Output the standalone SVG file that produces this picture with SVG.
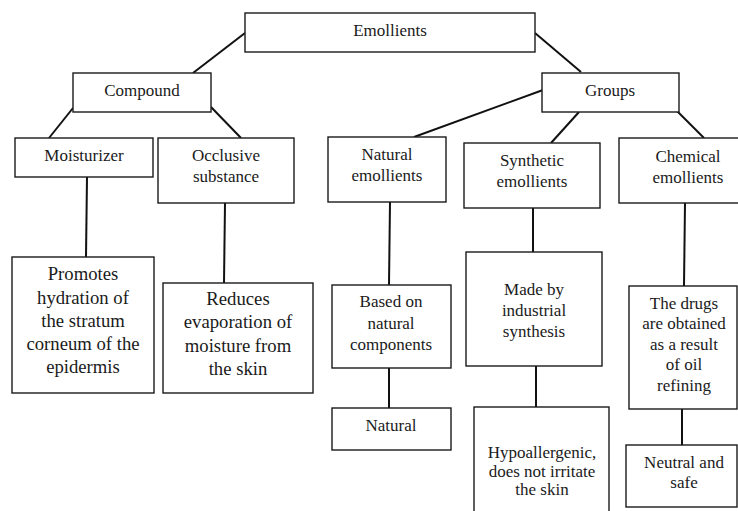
<svg xmlns="http://www.w3.org/2000/svg" width="738" height="511" viewBox="0 0 738 511">
<style>
.box{fill:#fff;stroke:#1a1a1a;stroke-width:1.4}
text{font-size:17px;fill:#1a1a1a;text-anchor:middle}
.b{font-size:18.7px}
.c line{stroke:#111;stroke-width:2}
</style>
<rect width="738" height="511" fill="#fff"/>
<g class="c" id="connectors">
<line x1="245" y1="33" x2="193" y2="73"/>
<line x1="535" y1="33" x2="581" y2="72"/>
<line x1="73" y1="108" x2="49" y2="138"/>
<line x1="211" y1="107" x2="241" y2="138"/>
<line x1="87" y1="177" x2="86" y2="257"/>
<line x1="225" y1="203" x2="224" y2="283"/>
<line x1="543" y1="90" x2="414" y2="137"/>
<line x1="579" y1="112" x2="551" y2="143"/>
<line x1="677" y1="111" x2="704" y2="138"/>
<line x1="390" y1="202" x2="389" y2="285"/>
<line x1="533" y1="208" x2="533" y2="252"/>
<line x1="685" y1="203" x2="684" y2="286"/>
<line x1="389" y1="368" x2="389" y2="408"/>
<line x1="536" y1="366" x2="536" y2="407"/>
<line x1="682" y1="409" x2="682" y2="445"/>
</g>
<g font-family="Liberation Serif, Times New Roman, DejaVu Serif, serif">
<g id="emollients"><rect class="box" x="245" y="13" width="290" height="39"/><text x="390" y="36">Emollients</text></g>
<g id="compound"><rect class="box" x="73" y="73" width="138" height="39"/><text x="142" y="96">Compound</text></g>
<g id="groups"><rect class="box" x="542" y="73" width="137" height="39"/><text x="610" y="96">Groups</text></g>
<g id="moisturizer"><rect class="box" x="15" y="138" width="138" height="39"/><text x="84" y="161">Moisturizer</text></g>
<g id="occlusive"><rect class="box" x="158" y="138" width="136" height="65"/><text x="226" y="161">Occlusive</text><text x="226" y="182">substance</text></g>
<g id="natural-emollients"><rect class="box" x="328" y="137" width="118" height="65"/><text x="387" y="160">Natural</text><text x="387" y="181">emollients</text></g>
<g id="synthetic-emollients"><rect class="box" x="464" y="143" width="136" height="65"/><text x="532" y="166">Synthetic</text><text x="532" y="187">emollients</text></g>
<g id="chemical-emollients"><rect class="box" x="619" y="138" width="125" height="65"/><text x="688" y="162">Chemical</text><text x="688" y="183">emollients</text></g>
<g id="promotes"><rect class="box" x="12" y="257" width="142" height="136"/><text class="b" x="83" y="280">Promotes</text><text class="b" x="83" y="304">hydration of</text><text class="b" x="83" y="327">the stratum</text><text class="b" x="83" y="350">corneum of the</text><text class="b" x="83" y="373">epidermis</text></g>
<g id="reduces"><rect class="box" x="163" y="283" width="150" height="110"/><text class="b" x="238" y="305">Reduces</text><text class="b" x="238" y="328">evaporation of</text><text class="b" x="238" y="352">moisture from</text><text class="b" x="238" y="375">the skin</text></g>
<g id="based-on"><rect class="box" x="332" y="285" width="119" height="83"/><text x="391" y="307">Based on</text><text x="391" y="329">natural</text><text x="391" y="350">components</text></g>
<g id="natural"><rect class="box" x="332" y="408" width="119" height="42"/><text x="391" y="431">Natural</text></g>
<g id="made-by"><rect class="box" x="466" y="252" width="136" height="114"/><text x="534" y="295">Made by</text><text x="534" y="316">industrial</text><text x="534" y="337">synthesis</text></g>
<g id="hypoallergenic"><rect class="box" x="474" y="407" width="135" height="110"/><text x="542" y="458">Hypoallergenic,</text><text x="542" y="477">does not irritate</text><text x="542" y="495">the skin</text></g>
<g id="drugs"><rect class="box" x="629" y="286" width="108" height="123"/><text x="684" y="309">The drugs</text><text x="684" y="329">are obtained</text><text x="684" y="350">as a result</text><text x="684" y="370">of oil</text><text x="684" y="391">refining</text></g>
<g id="neutral"><rect class="box" x="626" y="445" width="111" height="62"/><text x="684" y="468">Neutral and</text><text x="684" y="488">safe</text></g>
</g>
</svg>
